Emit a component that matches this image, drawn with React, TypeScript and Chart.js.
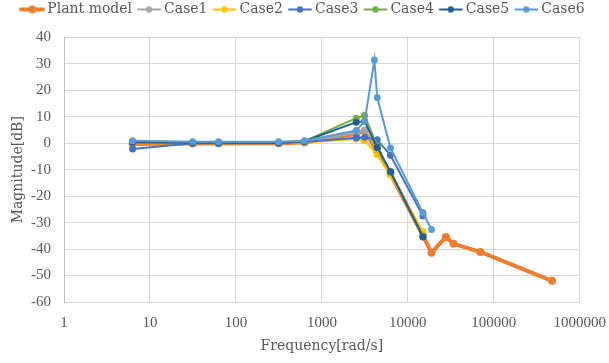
import React, { useEffect, useRef } from 'react';
import { Chart, registerables } from 'chart.js';

Chart.register(...registerables);

const seriesNames = ['Plant model', 'Case1', 'Case2', 'Case3', 'Case4', 'Case5', 'Case6'];
const seriesColors = ['#ED7D31', '#A5A5A5', '#FFC000', '#4472C4', '#70AD47', '#255E91', '#5B9BD5'];

const plantFreq = [6.28, 31.4, 62.8, 314, 628, 2513, 3142, 4398, 6283, 15000, 18850, 27700, 34000, 70000, 476000];
const plantMag = [-0.3, -0.1, -0.1, 0, 0.3, 3.6, 4.7, -3.0, -11.5, -35.0, -41.4, -35.4, -38.0, -41.1, -52.0];

const caseFreq = [6.28, 31.4, 62.8, 314, 628, 2513, 3142, 4398, 6283, 15000];
const case1Mag = [0.2, 0.1, 0.1, 0.1, 0.5, 4.0, 5.0, -2.0, -11.0, -34.5];
const case2Mag = [0.0, 0.0, 0.0, 0.0, 0.3, 1.6, 1.1, -4.3, -12.0, -33.3];
const case3Mag = [-2.2, 0.0, 0.0, 0.0, 0.5, 2.1, 2.3, 1.3, -4.5, -27.5];
const case4Mag = [0.5, 0.3, 0.3, 0.3, 0.8, 9.5, 10.5, -1.0, -11.0, -35.0];
const case5Mag = [0.3, 0.2, 0.2, 0.2, 0.8, 8.0, 8.3, -1.6, -10.7, -35.4];

const case6Freq = [6.28, 31.4, 62.8, 314, 628, 2513, 3142, 4084, 4398, 6283, 15000, 18850];
const case6Mag = [1.0, 0.6, 0.6, 0.6, 1.0, 4.8, 8.3, 31.5, 17.3, -1.8, -26.3, -32.6];

const xTicks = [1, 10, 100, 1000, 10000, 100000, 1000000];
const yMin = -60;
const yMax = 40;
const yStep = 10;

const seriesFreqs = [plantFreq, caseFreq, caseFreq, caseFreq, caseFreq, caseFreq, case6Freq];
const seriesMags = [plantMag, case1Mag, case2Mag, case3Mag, case4Mag, case5Mag, case6Mag];

function makeIcon(color: string, thick: boolean): HTMLCanvasElement {
  const c = document.createElement('canvas');
  c.width = 26;
  c.height = 10;
  const ctx = c.getContext('2d')!;
  ctx.strokeStyle = color;
  ctx.lineWidth = thick ? 4 : 2;
  ctx.lineCap = 'round';
  ctx.beginPath();
  ctx.moveTo(2, 5);
  ctx.lineTo(24, 5);
  ctx.stroke();
  ctx.fillStyle = color;
  ctx.beginPath();
  ctx.arc(13, 5, thick ? 4 : 3.2, 0, Math.PI * 2);
  ctx.fill();
  return c;
}

const legendShift = {
  id: 'legendShift',
  afterLayout(chart: any) {
    if (chart.legend) chart.legend.top -= 11;
  },
};

export default function App() {
  const ref = useRef<HTMLCanvasElement>(null);

  useEffect(() => {
    if (!ref.current) return;
    const icons = seriesColors.map((c, i) => makeIcon(c, i === 0));
    const datasets = seriesNames.map((name, i) => ({
      label: name,
      data: seriesFreqs[i].map((x, j) => ({ x, y: seriesMags[i][j] })),
      showLine: true,
      borderColor: seriesColors[i],
      backgroundColor: seriesColors[i],
      borderWidth: i === 0 ? 4 : 2,
      pointRadius: i === 0 ? 4 : 3.5,
      pointBorderWidth: 0,
      pointBackgroundColor: seriesColors[i],
      order: seriesNames.length - 1 - i,
    }));

    const chart = new Chart(ref.current, {
      type: 'scatter',
      data: { datasets },
      plugins: [legendShift],
      options: {
        animation: false,
        responsive: false,
        layout: { padding: { top: 4.5, right: 0, bottom: 0, left: 0 } },
        plugins: {
          tooltip: { enabled: false },
          legend: {
            position: 'top',
            align: 'center',
            labels: {
              usePointStyle: true,
              pointStyleWidth: 16,
              padding: 9,
              color: '#595959',
              font: { family: 'DejaVu Serif', size: 14 },
              generateLabels: (ch: any) =>
                ch.data.datasets.map((ds: any, i: number) => ({
                  text: ds.label,
                  fillStyle: ds.borderColor,
                  strokeStyle: ds.borderColor,
                  lineWidth: 0,
                  pointStyle: icons[i],
                  hidden: false,
                  datasetIndex: i,
                  fontColor: '#595959',
                })),
            },
          },
        },
        scales: {
          x: {
            type: 'logarithmic',
            min: 1,
            max: 1000000,
            afterBuildTicks: (scale: any) => {
              scale.ticks = xTicks.map((v) => ({ value: v }));
            },
            afterFit: (scale: any) => {
              scale.height = 61;
            },
            ticks: {
              autoSkip: false,
              maxRotation: 0,
              padding: 3,
              color: '#595959',
              font: { family: 'Liberation Serif', size: 15 },
              callback: (v: any) => String(v),
            },
            grid: {
              color: '#d9d9d9',
              drawTicks: true,
              tickLength: 9,
              tickColor: 'rgba(0,0,0,0)',
              lineWidth: 1,
            },
            border: { color: '#d9d9d9' },
            title: {
              display: true,
              text: 'Frequency[rad/s]',
              color: '#595959',
              font: { family: 'DejaVu Serif', size: 14 },
              padding: { top: 0, bottom: 8 },
            },
          },
          y: {
            min: yMin,
            max: yMax,
            afterFit: (scale: any) => {
              scale.width = 64;
            },
            ticks: {
              stepSize: yStep,
              padding: 13,
              color: '#595959',
              font: { family: 'Liberation Serif', size: 15 },
            },
            grid: { color: '#d9d9d9', drawTicks: false, lineWidth: 1 },
            border: { color: '#bfbfbf' },
            title: {
              display: true,
              text: 'Magnitude[dB]',
              color: '#595959',
              font: { family: 'DejaVu Serif', size: 14 },
              padding: { top: 10, bottom: 0 },
            },
          },
        },
      },
    });
    return () => chart.destroy();
  }, []);

  return (
    <div style={{ position: 'absolute', left: 0, top: 0, width: 609, height: 363, background: '#fff' }}>
      <canvas ref={ref} width={609} height={363} style={{ display: 'block' }} />
    </div>
  );
}
